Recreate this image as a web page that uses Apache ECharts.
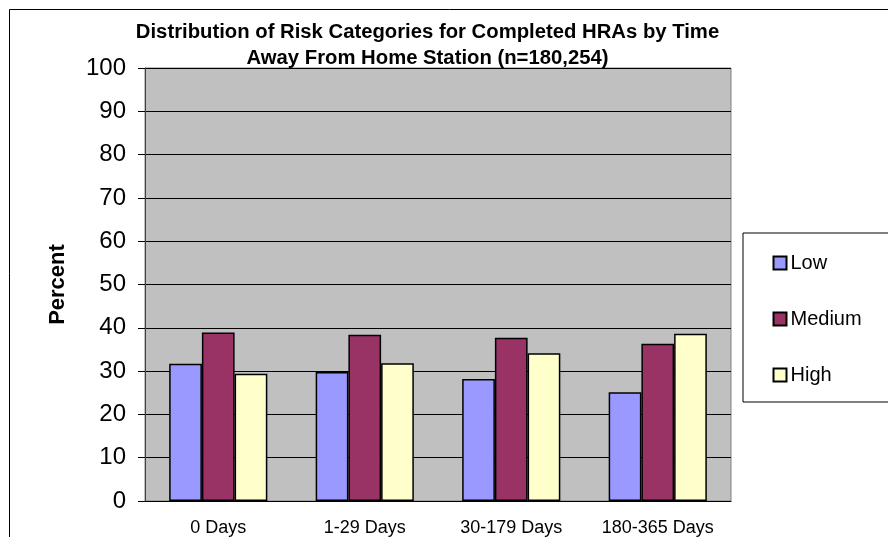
<!DOCTYPE html>
<html>
<head>
<meta charset="utf-8">
<script src="https://cdn.jsdelivr.net/npm/echarts@6/dist/echarts.min.js"></script>
<style>
  html, body { margin: 0; padding: 0; background: #fff; }
  #main { width: 888px; height: 537px; }
</style>
</head>
<body>
<div id="main"></div>
<script>
// data
var categories = ['0 Days', '1-29 Days', '30-179 Days', '180-365 Days'];
var lowVals = [31.7, 29.8, 28.2, 25.1];
var mediumVals = [38.9, 38.4, 37.7, 36.3];
var highVals = [29.4, 31.8, 34.1, 38.6];
var seriesNames = ['Low', 'Medium', 'High'];
var yTicks = { min: 0, max: 100, step: 10 };

var font = 'Arial, "Liberation Sans", sans-serif';

var myChart = echarts.init(document.getElementById('main'));

var barStyle = function(color) {
    return { color: color, borderColor: '#000', borderWidth: 1.5 };
};

var option = {
    animation: false,
    textStyle: { fontFamily: font, color: '#000' },
    graphic: [
        {   // outer chart frame
            type: 'rect',
            shape: { x: 9.5, y: 9.5, width: 900, height: 600 },
            style: { fill: 'none', stroke: '#000', lineWidth: 1 },
            silent: true
        },
        {
            type: 'text',
            x: 427.5,
            y: 19,
            style: {
                text: 'Distribution of Risk Categories for Completed HRAs by Time\nAway From Home Station (n=180,254)',
                font: 'bold 20.3px ' + font,
                fill: '#000',
                align: 'center',
                lineHeight: 26
            }
        }
    ],
    grid: {
        left: 145,
        right: 157,
        top: 68,
        bottom: 35,
        show: true,
        backgroundColor: '#C0C0C0',
        borderColor: '#808080',
        borderWidth: 1
    },
    legend: {
        data: seriesNames,
        orient: 'vertical',
        left: 743,
        top: 233,
        padding: [20, 70, 17, 29.5],
        itemWidth: 13,
        itemHeight: 13,
        itemGap: 36,
        backgroundColor: '#fff',
        borderColor: '#000',
        borderWidth: 1,
        icon: 'rect',
        textStyle: { fontSize: 20, lineHeight: 20, color: '#000', fontFamily: font, padding: [0, 0, 0, -1] }
    },
    xAxis: {
        type: 'category',
        data: categories,
        axisLine: { lineStyle: { color: '#000', width: 1 } },
        axisTick: { length: 6, lineStyle: { color: '#000' } },
        axisLabel: { fontSize: 18, color: '#000', margin: 18, interval: 0 },
        splitLine: { show: false }
    },
    yAxis: {
        type: 'value',
        min: yTicks.min,
        max: yTicks.max,
        interval: yTicks.step,
        name: 'Percent',
        nameLocation: 'middle',
        nameRotate: 90,
        nameGap: 76,
        nameTextStyle: { fontSize: 22, fontWeight: 'bold', color: '#000' },
        axisLine: { show: true, lineStyle: { color: '#404040', width: 1 } },
        axisTick: { show: true, length: 7, lineStyle: { color: '#000' } },
        axisLabel: { fontSize: 24, color: '#000', margin: 19 },
        splitLine: { lineStyle: { color: '#000', width: 1 } }
    },
    series: [
        {
            name: seriesNames[0],
            type: 'bar',
            data: lowVals,
            barGap: '0%',
            barCategoryGap: '33%',
            itemStyle: barStyle('#9999FF')
        },
        {
            name: seriesNames[1],
            type: 'bar',
            data: mediumVals,
            itemStyle: barStyle('#993366')
        },
        {
            name: seriesNames[2],
            type: 'bar',
            data: highVals,
            itemStyle: barStyle('#FFFFCC')
        }
    ]
};

myChart.setOption(option);
</script>
</body>
</html>
